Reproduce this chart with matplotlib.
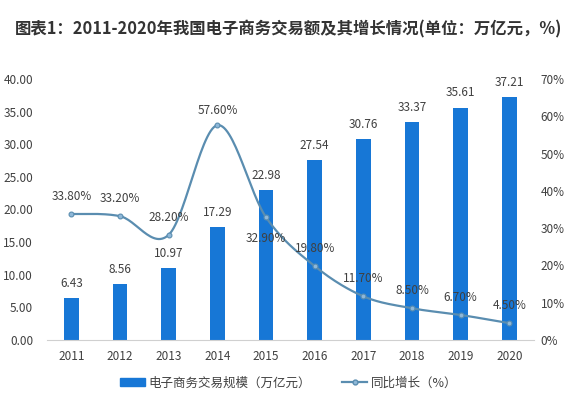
import numpy as np
import matplotlib
matplotlib.use("Agg")
import matplotlib.pyplot as plt
from matplotlib.lines import Line2D
from matplotlib.patches import Patch

plt.rcParams['font.family'] = ['Noto Sans CJK SC', 'DejaVu Sans']

years = ['2011', '2012', '2013', '2014', '2015', '2016', '2017', '2018', '2019', '2020']
scale = [6.43, 8.56, 10.97, 17.29, 22.98, 27.54, 30.76, 33.37, 35.61, 37.21]
growth = [33.8, 33.2, 28.2, 57.6, 32.9, 19.8, 11.7, 8.5, 6.7, 4.5]
left_ticks = [0, 5, 10, 15, 20, 25, 30, 35, 40]
right_ticks = [0, 10, 20, 30, 40, 50, 60, 70]

title = '图表1：2011-2020年我国电子商务交易额及其增长情况(单位：万亿元，%)'
bar_name = '电子商务交易规模（万亿元）'
line_name = '同比增长（%）'

bar_color = '#1777d6'
line_color = '#5a8db0'
text_color = '#404040'


def catmull_rom(xs, ys, n=30):
    xs = np.asarray(xs, float)
    ys = np.asarray(ys, float)
    px = np.concatenate([[xs[0]], xs, [xs[-1]]])
    py = np.concatenate([[ys[0]], ys, [ys[-1]]])
    ox, oy = [], []
    for i in range(1, len(px) - 2):
        p0 = np.array([px[i - 1], py[i - 1]])
        p1 = np.array([px[i], py[i]])
        p2 = np.array([px[i + 1], py[i + 1]])
        p3 = np.array([px[i + 2], py[i + 2]])
        c1 = p1 + (p2 - p0) / 6.0
        c2 = p2 - (p3 - p1) / 6.0
        t = np.linspace(0, 1, n)[:, None]
        pts = ((1 - t) ** 3) * p1 + 3 * ((1 - t) ** 2) * t * c1 + 3 * (1 - t) * t ** 2 * c2 + t ** 3 * p2
        ox.extend(pts[:, 0])
        oy.extend(pts[:, 1])
    return np.array(ox), np.array(oy)


fig = plt.figure(figsize=(5.77, 3.99), dpi=100)
fig.patch.set_facecolor('white')
ax = fig.add_axes([0.0815, 0.148, 0.8435, 0.654])
x = np.arange(len(years))
ax.bar(x, scale, width=0.30, color=bar_color, zorder=2)
ax.set_xlim(-0.5, 9.5)
ax.set_ylim(0, 40)
ax.set_yticks(left_ticks)
ax.set_yticklabels([f'{v:.2f}' for v in left_ticks])
ax.set_xticks(x)
ax.set_xticklabels(years)
for s in ['top', 'right', 'left']:
    ax.spines[s].set_visible(False)
ax.spines['bottom'].set_color('#d0d0d0')
ax.tick_params(axis='both', length=0, labelsize=8.5, labelcolor=text_color)
ax.tick_params(axis='y', pad=10)
ax.tick_params(axis='x', pad=7)

for xi, v in zip(x, scale):
    ax.annotate(f'{v:.2f}', (xi, v), xytext=(0, 6), textcoords='offset points',
                ha='center', va='bottom', fontsize=8.5, color=text_color, zorder=5)

ax2 = ax.twinx()
ax2.set_ylim(0, 70)
ax2.set_yticks(right_ticks)
ax2.set_yticklabels([f'{v}%' for v in right_ticks])
for s in ['top', 'right', 'left', 'bottom']:
    ax2.spines[s].set_visible(False)
ax2.tick_params(axis='y', length=0, labelsize=8.5, labelcolor=text_color, pad=5)

sx, sy = catmull_rom(x, growth)
ax2.plot(sx, sy, color=line_color, lw=1.6, zorder=3)
ax2.plot(x, growth, 'o', ms=3.5, color='#8fb8d8', mec=line_color, mew=0.8, zorder=4)

offsets = [(0, 8), (0, 8), (0, 8), (0, 6), (0, -20), (0, 8), (0, 8), (0, 8), (0, 8), (0, 8)]
for xi, v, off in zip(x, growth, offsets):
    ax2.annotate(f'{v:.2f}%', (xi, v), xytext=off, textcoords='offset points',
                 ha='center', va='bottom', fontsize=8.5, color=text_color, zorder=5)

fig.text(0.5, 0.925, title, ha='center', va='center', fontsize=11.8,
         fontweight='bold', color='#333333')

handles = [Patch(color=bar_color),
           Line2D([0], [0], color=line_color, lw=1.6, marker='o', ms=3.5,
                  mfc='#8fb8d8', mec=line_color)]
fig.legend(handles, [bar_name, line_name], loc='center', bbox_to_anchor=(0.5, 0.04),
           ncol=2, frameon=False, fontsize=9, labelcolor=text_color,
           handlelength=2.0, handleheight=0.6, columnspacing=2.5, handletextpad=0.3)

fig.savefig('out.png', dpi=100, facecolor='white')
